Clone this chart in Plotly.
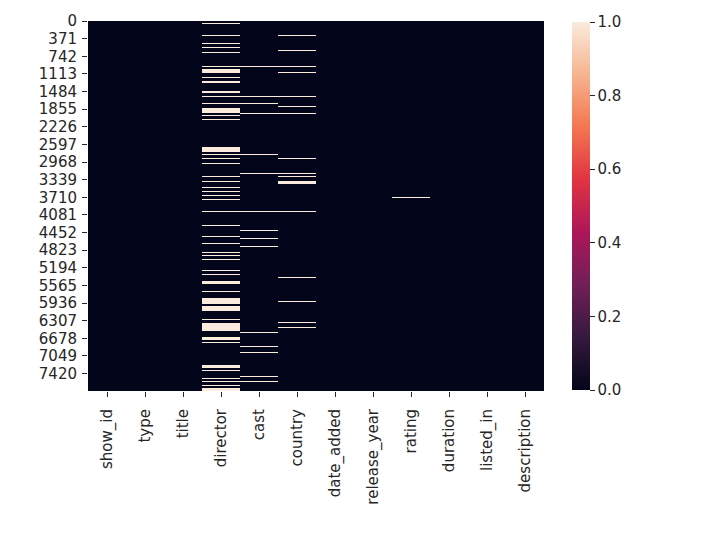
import plotly.graph_objects as go

# Column names of the dataset (x categories)
columns = ["show_id", "type", "title", "director", "cast", "country",
           "date_added", "release_year", "rating", "duration", "listed_in", "description"]

n_rows = 7787
y_tick_labels = [0, 371, 742, 1113, 1484, 1855, 2226, 2597, 2968, 3339, 3710,
                 4081, 4452, 4823, 5194, 5565, 5936, 6307, 6678, 7049, 7420]

# Missing-value runs per column, as [first_row, end_row)
director_missing = [
    (38, 60), (285, 306), (460, 481), (545, 566), (650, 671), (939, 960),
    (1012, 1088), (1184, 1205), (1262, 1295), (1476, 1525), (1584, 1605),
    (1726, 1747), (1826, 1940), (1979, 2000), (2066, 2092), (2657, 2754),
    (2801, 2822), (2879, 2900), (2985, 3006), (3265, 3286), (3377, 3398),
    (3491, 3512), (3571, 3606), (3665, 3686), (3736, 3757), (3989, 4010),
    (4284, 4305), (4531, 4552), (4672, 4693), (4853, 4874), (4925, 4946),
    (5009, 5030), (5248, 5269), (5317, 5338), (5469, 5526), (5684, 5705),
    (5821, 5960), (5996, 6101), (6281, 6302), (6361, 6523), (6643, 6713),
    (6760, 6781), (7240, 7297), (7336, 7357), (7511, 7532), (7582, 7603),
    (7652, 7673), (7732, 7787),
]
cast_missing = [
    (939, 960), (1584, 1605), (1726, 1747), (1943, 1964), (2801, 2822),
    (3196, 3217), (3989, 4010), (4389, 4410), (4567, 4588), (4742, 4763),
    (6541, 6562), (6830, 6851), (6971, 6992), (7477, 7498), (7582, 7603),
]
country_missing = [
    (285, 306), (614, 635), (939, 960), (1072, 1093), (1584, 1605),
    (1795, 1816), (1943, 1964), (2879, 2900), (3196, 3217), (3265, 3286),
    (3377, 3423), (3989, 4010), (5396, 5417), (5895, 5916), (6330, 6351),
    (6435, 6456),
]
rating_missing = [(3702, 3723)]

missing_runs = {
    "director": director_missing,
    "cast": cast_missing,
    "country": country_missing,
    "rating": rating_missing,
}

# Build bin edges and the 0/1 matrix from the runs
edges = {0, n_rows}
for runs in missing_runs.values():
    for a, b in runs:
        edges.add(a)
        edges.add(b)
edges = sorted(edges)

z = []
for k in range(len(edges) - 1):
    lo, hi = edges[k], edges[k + 1]
    row = []
    for col in columns:
        runs = missing_runs.get(col, [])
        row.append(1 if any(a <= lo and hi <= b for a, b in runs) else 0)
    z.append(row)

rocket = [
    [0.0, "#03051a"],
    [1 / 7, "#35193e"],
    [2 / 7, "#701f57"],
    [3 / 7, "#ad1759"],
    [4 / 7, "#e13342"],
    [5 / 7, "#f37651"],
    [6 / 7, "#f6b48f"],
    [1.0, "#faebdd"],
]

font_family = "DejaVu Sans"
text_color = "#262626"

fig = go.Figure(go.Heatmap(
    z=z,
    x=columns,
    y=edges,
    zmin=0,
    zmax=1,
    colorscale=rocket,
    showscale=True,
    colorbar=dict(
        x=1.0607, xanchor="left", y=0.5, yanchor="middle",
        len=0.995, thickness=18, outlinewidth=0,
        tickvals=[0.0, 0.2, 0.4, 0.6, 0.8, 1.0],
        ticktext=["0.0", "0.2", "0.4", "0.6", "0.8", "1.0"],
        ticks="outside", ticklen=5, tickwidth=1.2, tickcolor=text_color,
        tickfont=dict(family=font_family, size=15, color=text_color),
        xpad=0, ypad=0,
    ),
))

fig.update_layout(
    width=690, height=536,
    margin=dict(l=80, r=154, t=13, b=153, autoexpand=False),
    paper_bgcolor="white", plot_bgcolor="white",
    font=dict(family=font_family, size=15, color=text_color),
)
fig.update_xaxes(
    type="category",
    ticks="outside", ticklen=5, tickwidth=1.2, tickcolor=text_color,
    tickangle=-90, showgrid=False, zeroline=False, showline=False,
    ticklabelstandoff=6,
    tickfont=dict(family=font_family, size=15, color=text_color),
)
fig.update_yaxes(
    range=[n_rows, 0],
    tickvals=[v + 0.5 for v in y_tick_labels],
    ticktext=[str(v) for v in y_tick_labels],
    ticks="outside", ticklen=5, tickwidth=1.2, tickcolor=text_color,
    showgrid=False, zeroline=False, showline=False,
    ticklabelstandoff=2,
    tickfont=dict(family=font_family, size=15, color=text_color),
)

fig.write_html("out.html")
